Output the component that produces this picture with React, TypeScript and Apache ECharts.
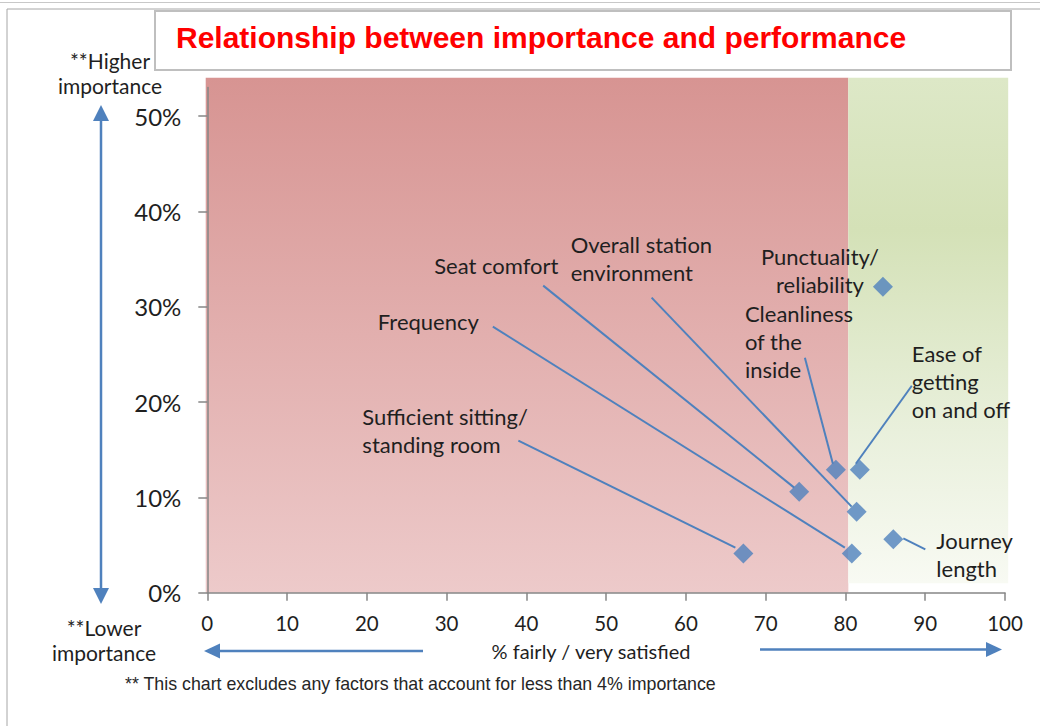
import React, { useEffect, useRef } from "react";
import * as echarts from "echarts";

// ---- Data ----
const categories = [
  "Sufficient sitting/\nstanding room",
  "Frequency",
  "Seat comfort",
  "Overall station\nenvironment",
  "Cleanliness\nof the\ninside",
  "Ease of\ngetting\non and off",
  "Punctuality/\nreliability",
  "Journey\nlength",
];
const satisfaction = [67.2, 80.8, 74.2, 81.4, 78.8, 81.8, 84.7, 86.0];
const importance = [0.041, 0.041, 0.106, 0.085, 0.129, 0.129, 0.321, 0.056];

// background zones (data units)
const zoneX0 = [-0.2, 80.36];
const zoneX1 = [80.36, 100.4];
const zoneYTop = [0.54, 0.54];
const zoneYBottom = [0, 0.01];

const xTicks = [0, 10, 20, 30, 40, 50, 60, 70, 80, 90, 100];
const yTicks = [0, 0.1, 0.2, 0.3, 0.4, 0.5];

// ---- Callout layout (pixel offsets relative to each point) ----
const labelDx = [-381, -474, -365, -286, -91, 52, -63, 43];
const labelDy = [-137, -232, -226, -267, -156, -116, -30, 1];
const labelAlign = ["left", "left", "left", "left", "left", "left", "center", "left"];
const lineStart: (number[] | null)[] = [
  [-225, -113],
  [-359, -227],
  [-256, -206],
  [-205, -214],
  [-31, -112],
  [52, -84],
  null,
  [32, 10],
];
const lineEnd: (number[] | null)[] = [
  [-8, -6],
  [-7, -6],
  [-5, -4],
  [-5, -5],
  [-3, -6],
  [-4, -6],
  null,
  [10, -1],
];

const BLUE = "#4f81bd";
const TEXT = "#1f1f1f";
const FONT = "Lato, 'Open Sans', sans-serif";

export default function App() {
  const ref = useRef<HTMLDivElement>(null);
  useEffect(() => {
    document.body.style.margin = "0";
    const chart = echarts.init(ref.current!, undefined, { renderer: "svg" });

    const redFill = new echarts.graphic.LinearGradient(0, 0, 0, 1, [
      { offset: 0, color: "#d79492" },
      { offset: 1, color: "#edcaca" },
    ]);
    const greenFill = new echarts.graphic.LinearGradient(0, 0, 0, 1, [
      { offset: 0, color: "#dde8c7" },
      { offset: 0.3, color: "#d4e1b7" },
      { offset: 0.7, color: "#e9f0dc" },
      { offset: 1, color: "#f8faf3" },
    ]);
    const zoneFills = [redFill, greenFill];

    const option: any = {
      animation: false,
      backgroundColor: "#ffffff",
      grid: { left: 207.3, right: 35, top: 87.4, bottom: 133.3 },
      xAxis: {
        type: "value",
        min: 0,
        max: 100,
        interval: 10,
        z: 5,
        axisLine: { show: true, lineStyle: { color: "#868686", width: 1.5 } },
        axisTick: { show: true, inside: false, length: 8, lineStyle: { color: "#868686", width: 1.5 } },
        axisLabel: {
          show: true,
          margin: 20,
          color: TEXT,
          fontSize: 20.5,
          fontFamily: FONT,
          customValues: xTicks,
        },
        splitLine: { show: false },
      },
      yAxis: {
        type: "value",
        min: 0,
        max: 0.53,
        interval: 0.1,
        z: 5,
        axisLine: { show: true, lineStyle: { color: "#868686", width: 1.5 } },
        axisTick: {
          show: true,
          inside: false,
          length: 9,
          lineStyle: { color: "#868686", width: 1.5 },
          customValues: yTicks,
        },
        axisLabel: {
          show: true,
          margin: 26,
          color: TEXT,
          fontSize: 24,
          fontFamily: FONT,
          customValues: yTicks,
          formatter: (v: number) => {
            const p = Math.round(v * 100);
            return p % 10 === 0 ? p + "%" : "";
          },
        },
        splitLine: { show: false },
      },
      graphic: [
        { type: "line", shape: { x1: 0, y1: 2.5, x2: 1040, y2: 2.5 }, style: { stroke: "#c8c8c8", lineWidth: 1 }, silent: true },
        { type: "rect", shape: { x: 7, y: 9, width: 1040, height: 730 }, style: { fill: "none", stroke: "#a6a6a6", lineWidth: 1 }, silent: true },
        { type: "rect", shape: { x: 155, y: 11, width: 856, height: 59 }, style: { fill: "#ffffff", stroke: "#bfbfbf", lineWidth: 2 }, silent: true },
        {
          type: "text",
          x: 176,
          y: 37,
          style: {
            text: "Relationship between importance and performance",
            fill: "#ff0000",
            font: "bold 30px 'Liberation Sans', Arial, sans-serif",
            align: "left",
            verticalAlign: "middle",
          },
        },
        {
          type: "text",
          x: 110,
          y: 48,
          style: { text: "**Higher\nimportance", fill: TEXT, font: "21px " + FONT, align: "center", verticalAlign: "top", lineHeight: 25 },
        },
        {
          type: "text",
          x: 104,
          y: 615,
          style: { text: "**Lower\nimportance", fill: TEXT, font: "21px " + FONT, align: "center", verticalAlign: "top", lineHeight: 25 },
        },
        // vertical double arrow
        { type: "line", shape: { x1: 101, y1: 118, x2: 101, y2: 591 }, style: { stroke: BLUE, lineWidth: 2.5 } },
        { type: "polygon", shape: { points: [[101, 105], [93, 121], [109, 121]] }, style: { fill: BLUE } },
        { type: "polygon", shape: { points: [[101, 604], [93, 588], [109, 588]] }, style: { fill: BLUE } },
        // horizontal arrows
        { type: "line", shape: { x1: 423, y1: 651, x2: 216, y2: 651 }, style: { stroke: BLUE, lineWidth: 2.5 } },
        { type: "polygon", shape: { points: [[204, 651], [220, 643.5], [220, 658.5]] }, style: { fill: BLUE } },
        { type: "line", shape: { x1: 760, y1: 649.5, x2: 990, y2: 649.5 }, style: { stroke: BLUE, lineWidth: 2.5 } },
        { type: "polygon", shape: { points: [[1002, 649.5], [986, 642], [986, 657]] }, style: { fill: BLUE } },
        {
          type: "text",
          x: 591,
          y: 651,
          style: { text: "% fairly / very satisfied", fill: TEXT, font: "20px " + FONT, align: "center", verticalAlign: "middle" },
        },
        {
          type: "text",
          x: 125,
          y: 684,
          style: {
            text: "** This chart excludes any factors that account for less than 4% importance",
            fill: "#262626",
            font: "17.8px 'Liberation Sans', Arial, sans-serif",
            align: "left",
            verticalAlign: "middle",
          },
        },
      ],
      series: [
        {
          type: "custom",
          name: "zones",
          coordinateSystem: "cartesian2d",
          clip: false,
          silent: true,
          z: 1,
          encode: { x: [0, 1], y: [2, 3] },
          data: zoneX0.map((x0, i) => [x0, zoneX1[i], zoneYTop[i], zoneYBottom[i]]),
          renderItem: (params: any, api: any) => {
            const i = params.dataIndex;
            const p0 = api.coord([api.value(0), api.value(2)]);
            const p1 = api.coord([api.value(1), api.value(3)]);
            return {
              type: "rect",
              shape: { x: p0[0], y: p0[1], width: p1[0] - p0[0], height: p1[1] - p0[1] },
              style: { fill: zoneFills[i] },
            };
          },
        },
        {
          type: "custom",
          name: "callouts",
          coordinateSystem: "cartesian2d",
          clip: false,
          silent: true,
          z: 3,
          encode: { x: 0, y: 1 },
          data: satisfaction.map((x, i) => [x, importance[i]]),
          renderItem: (params: any, api: any) => {
            const i = params.dataIndex;
            const p = api.coord([api.value(0), api.value(1)]);
            const children: any[] = [];
            const s = lineStart[i];
            const e = lineEnd[i];
            if (s && e) {
              children.push({
                type: "line",
                shape: { x1: p[0] + s[0], y1: p[1] + s[1], x2: p[0] + e[0], y2: p[1] + e[1] },
                style: { stroke: BLUE, lineWidth: 2 },
              });
            }
            children.push({
              type: "text",
              x: p[0] + labelDx[i],
              y: p[1] + labelDy[i] - 14,
              style: {
                text: categories[i],
                fill: TEXT,
                font: "22px " + FONT,
                align: labelAlign[i],
                verticalAlign: "top",
                lineHeight: 28,
              },
            });
            return { type: "group", children };
          },
        },
        {
          type: "scatter",
          name: "factors",
          z: 4,
          symbol: "diamond",
          symbolSize: 20,
          itemStyle: { color: BLUE },
          data: satisfaction.map((x, i) => [x, importance[i]]),
        },
      ],
    };
    chart.setOption(option);
    return () => chart.dispose();
  }, []);
  return <div ref={ref} style={{ width: 1040, height: 726 }} />;
}
